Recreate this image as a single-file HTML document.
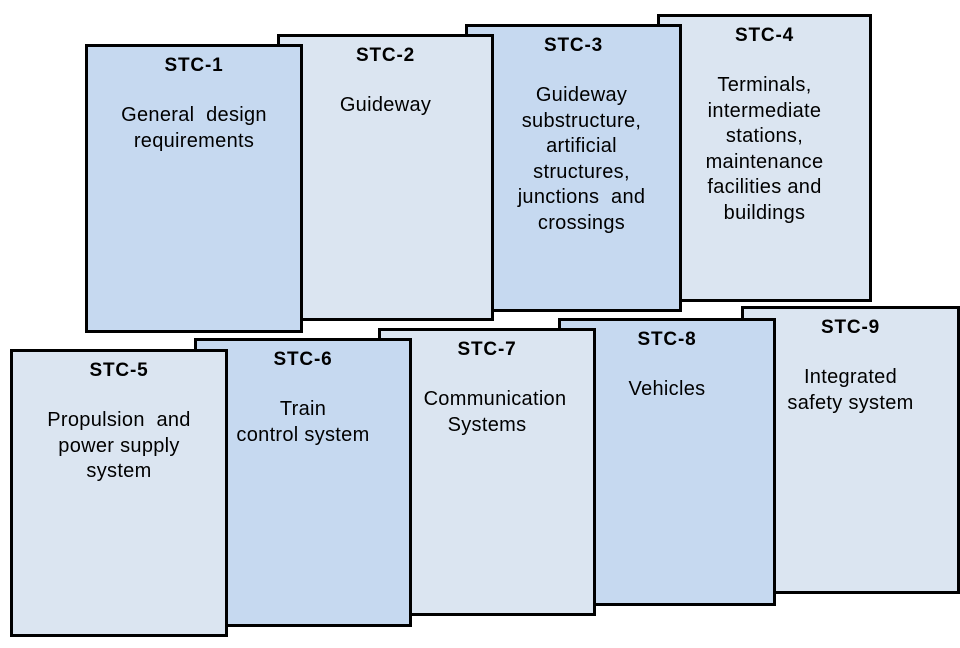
<!DOCTYPE html>
<html>
<head>
<meta charset="utf-8">
<style>
  html, body { margin:0; padding:0; }
  body { width:960px; height:648px; background:#ffffff; position:relative; overflow:hidden;
         font-family:"Liberation Sans", Arial, sans-serif; color:#000; }
  .card { position:absolute; box-sizing:border-box; border:3px solid #000; }
  .dark { background:#c6d9f0; }
  .light { background:#dbe5f1; }
  .t { position:absolute; left:0; right:0; top:7px; text-align:center; font-weight:bold;
       font-size:19px; line-height:24px; letter-spacing:0.8px; }
  .b { position:absolute; left:0; right:0; top:56px; text-align:center;
       font-size:20px; line-height:25.6px; letter-spacing:0.3px; white-space:nowrap; }
  .b div { height:25.6px; }
</style>
</head>
<body>

<!-- top row: z decreasing left to right -->
<div class="card light" style="left:657px;top:14px;width:215px;height:288px;z-index:1;">
  <div class="t">STC-4</div>
  <div class="b"><div>Terminals,</div><div>intermediate</div><div>stations,</div><div>maintenance</div><div>facilities and</div><div>buildings</div></div>
</div>
<div class="card dark" style="left:465px;top:24px;width:217px;height:288px;z-index:2;">
  <div class="t">STC-3</div>
  <div class="b" style="left:16px;"><div>Guideway</div><div>substructure,</div><div>artificial</div><div>structures,</div><div>junctions&nbsp; and</div><div>crossings</div></div>
</div>
<div class="card light" style="left:277px;top:34px;width:217px;height:287px;z-index:3;">
  <div class="t">STC-2</div>
  <div class="b"><div>Guideway</div></div>
</div>
<div class="card dark" style="left:85px;top:44px;width:218px;height:289px;z-index:4;">
  <div class="t">STC-1</div>
  <div class="b"><div>General&nbsp; design</div><div>requirements</div></div>
</div>

<!-- bottom row -->
<div class="card light" style="left:741px;top:306px;width:219px;height:288px;z-index:5;">
  <div class="t">STC-9</div>
  <div class="b"><div>Integrated</div><div>safety system</div></div>
</div>
<div class="card dark" style="left:558px;top:318px;width:218px;height:288px;z-index:6;">
  <div class="t">STC-8</div>
  <div class="b"><div>Vehicles</div></div>
</div>
<div class="card light" style="left:378px;top:328px;width:218px;height:288px;z-index:7;">
  <div class="t">STC-7</div>
  <div class="b"><div style="padding-left:16px;">Communication</div><div>Systems</div></div>
</div>
<div class="card dark" style="left:194px;top:338px;width:218px;height:289px;z-index:8;">
  <div class="t">STC-6</div>
  <div class="b"><div>Train</div><div>control system</div></div>
</div>
<div class="card light" style="left:10px;top:349px;width:218px;height:288px;z-index:9;">
  <div class="t">STC-5</div>
  <div class="b"><div>Propulsion&nbsp; and</div><div>power supply</div><div>system</div></div>
</div>

</body>
</html>
